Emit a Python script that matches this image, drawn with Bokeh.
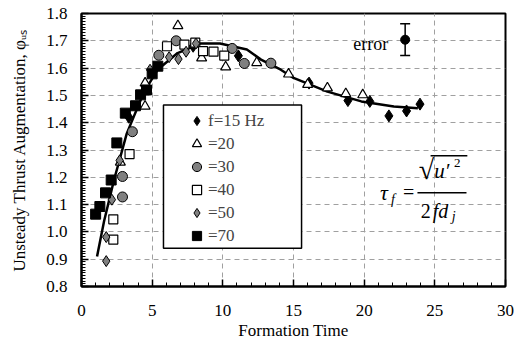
import math
from bokeh.plotting import figure
from bokeh.models import (Legend, LegendItem, BoxAnnotation, Label, SingleIntervalTicker,
                          Whisker, ColumnDataSource, Range1d, TeeHead, NumeralTickFormatter)
from bokeh.embed import file_html
from bokeh.resources import INLINE

# ---- data ----
f15_x = [3.35, 7.9, 11.1, 16.1, 18.85, 20.4, 21.75, 23.0, 23.95]
f15_y = [1.42, 1.68, 1.645, 1.545, 1.481, 1.478, 1.425, 1.443, 1.468]

f20_x = [2.75, 4.5, 4.5, 6.82, 8.5, 10.2, 12.4, 14.65, 16.0, 17.4, 18.7, 19.9]
f20_y = [1.255, 1.46, 1.545, 1.755, 1.637, 1.604, 1.62, 1.578, 1.54, 1.527, 1.506, 1.502]

f30_x = [2.9, 2.9, 3.6, 5.47, 6.7, 10.66, 11.52, 13.4]
f30_y = [1.128, 1.203, 1.367, 1.647, 1.70, 1.672, 1.617, 1.618]

f40_x = [2.25, 2.25, 3.4, 6.05, 7.28, 8.05, 8.6, 9.34, 10.1]
f40_y = [0.972, 1.046, 1.285, 1.68, 1.686, 1.693, 1.662, 1.66, 1.646]

f50_x = [1.75, 1.75, 2.15, 2.7, 4.85, 6.2, 6.86, 7.4, 8.1]
f50_y = [0.893, 0.981, 1.118, 1.262, 1.594, 1.64, 1.633, 1.66, 1.69]

f70_x = [1.0, 1.3, 1.7, 2.1, 2.5, 3.1, 3.82, 4.18, 4.6, 5.0, 5.4]
f70_y = [1.065, 1.093, 1.143, 1.19, 1.326, 1.435, 1.462, 1.502, 1.52, 1.579, 1.607]

fit_x = [1.1, 1.6, 2.3, 3.2, 4.4, 5.4, 6.8, 8.4, 9.8, 11.7, 12.7, 14.1, 15.0, 17.4, 19.8, 22.1, 23.8]
fit_y = [0.91, 1.04, 1.19, 1.36, 1.51, 1.595, 1.655, 1.69, 1.69, 1.668, 1.631, 1.594, 1.564,
         1.514, 1.478, 1.459, 1.453]

err_x = [22.9]
err_y = [1.704]
err_half = [0.058]

legend_labels = ["f=15 Hz", "=20", "=30", "=40", "=50", "=70"]

FONT = "Liberation Serif"

p = figure(width=522, height=343, output_backend="svg", toolbar_location=None,
           x_range=Range1d(0, 30), y_range=Range1d(0.8, 1.8),
           min_border_left=81, min_border_right=17, min_border_top=13, min_border_bottom=57)
p.background_fill_color = "white"
p.border_fill_color = "white"
p.outline_line_color = "black"
p.outline_line_width = 2

p.xaxis.ticker = SingleIntervalTicker(interval=5, num_minor_ticks=5)
p.yaxis.ticker = SingleIntervalTicker(interval=0.1, num_minor_ticks=10)
p.yaxis.formatter = NumeralTickFormatter(format="0.0")

for ax in (p.xaxis[0], p.yaxis[0]):
    ax.axis_line_color = "black"
    ax.axis_line_width = 2
    ax.major_tick_in = 7
    ax.major_tick_out = 0
    ax.minor_tick_in = 4
    ax.minor_tick_out = 0
    ax.major_tick_line_color = "black"
    ax.minor_tick_line_color = "black"
    ax.major_tick_line_width = 1.5
    ax.minor_tick_line_width = 1
    ax.major_label_text_font = FONT
    ax.major_label_text_font_size = "17px"
    ax.major_label_text_font_style = "normal"
    ax.major_label_text_color = "black"
    ax.axis_label_text_font = FONT
    ax.axis_label_text_font_size = "17px"
    ax.axis_label_text_font_style = "normal"
    ax.axis_label_text_color = "black"

p.xaxis.axis_label = "Formation Time"
p.xaxis.major_label_standoff = 18
p.xaxis.axis_label_standoff = 2
p.yaxis.axis_label = "Unsteady Thrust Augmentation, \u03c6\u1d64\u209b"
p.yaxis.major_label_standoff = 14
p.yaxis.axis_label_standoff = 14

for g in (p.xgrid[0], p.ygrid[0]):
    g.grid_line_color = "#a0a0a0"
    g.grid_line_dash = "5 4"
    g.grid_line_width = 1

# fitted curve
p.line(fit_x, fit_y, line_color="black", line_width=2.5, line_join="round")

r15 = p.scatter(f15_x, f15_y, marker="diamond", size=12, fill_color="black", line_color="black")
r20 = p.scatter(f20_x, f20_y, marker="triangle", size=10, fill_color="white",
                line_color="black", line_width=1.2)
r30 = p.scatter(f30_x, f30_y, marker="circle", size=10, fill_color="#808080",
                line_color="black", line_width=1)
r40 = p.scatter(f40_x, f40_y, marker="square", size=9, fill_color="white",
                line_color="black", line_width=1.2)
r50 = p.scatter(f50_x, f50_y, marker="diamond", size=11, fill_color="#808080",
                line_color="black", line_width=1)
r70 = p.scatter(f70_x, f70_y, marker="square", size=10, fill_color="black", line_color="black")

# error bar
src_err = ColumnDataSource(dict(x=err_x, y=err_y,
                                lo=[y - h for y, h in zip(err_y, err_half)],
                                hi=[y + h for y, h in zip(err_y, err_half)]))
p.add_layout(Whisker(source=src_err, base="x", lower="lo", upper="hi", dimension="height",
                     line_color="black", line_width=1.5,
                     lower_head=TeeHead(size=10, line_width=1.5, line_color="black"),
                     upper_head=TeeHead(size=10, line_width=1.5, line_color="black")))
p.scatter("x", "y", source=src_err, marker="circle", size=9, fill_color="black", line_color="black")
p.add_layout(Label(x=21.7, y=1.69, text="error", text_font=FONT, text_font_size="18px",
                   text_align="right", text_baseline="middle", text_color="black"))

# legend frame
p.add_layout(BoxAnnotation(left=5.8, right=15.57, bottom=0.94, top=1.465,
                           fill_color="white", fill_alpha=1.0, line_color="black",
                           line_width=1.5, line_alpha=1.0))
items = [LegendItem(label=lab, renderers=[r]) for lab, r in
         zip(legend_labels, [r15, r20, r30, r40, r50, r70])]
leg = Legend(items=items, location=(104, 39), padding=0, margin=0, spacing=0,
             glyph_width=23, glyph_height=23, label_height=23, label_standoff=0,
             label_text_font=FONT, label_text_font_size="17px",
             background_fill_alpha=0, border_line_alpha=0)
p.add_layout(leg, "center")

# formula tau_f = sqrt(u'^2) / (2 f d_j)
def lab(x, y, t, size="20px", style="normal", align="center", base="middle"):
    p.add_layout(Label(x=x, y=y, text=t, text_font=FONT, text_font_size=size,
                       text_font_style=style, text_align=align, text_baseline=base,
                       text_color="black"))

lab(21.4, 1.146, "\u03c4", size="22px", style="italic")
lab(21.9, 1.118, "f", size="14px", style="italic", align="left")
lab(23.14, 1.146, "=", size="20px")
p.add_layout(BoxAnnotation(left=23.77, right=27.24, bottom=1.141, top=1.146,
                           fill_color="black", fill_alpha=1, line_alpha=0))
lab(24.4, 1.228, "\u221a", size="28px", style="bold")
p.add_layout(BoxAnnotation(left=24.7, right=27.3, bottom=1.276, top=1.282,
                           fill_color="black", fill_alpha=1, line_alpha=0))
lab(24.95, 1.222, "u\u2032", size="21px", style="italic", align="left")
lab(26.35, 1.252, "2", size="13px", align="left")
lab(24.35, 1.078, "2", size="20px")
lab(24.85, 1.078, "fd", size="20px", style="italic", align="left")
lab(26.2, 1.058, "j", size="14px", style="italic", align="left")

open("out.html", "w").write(file_html(p, INLINE))
